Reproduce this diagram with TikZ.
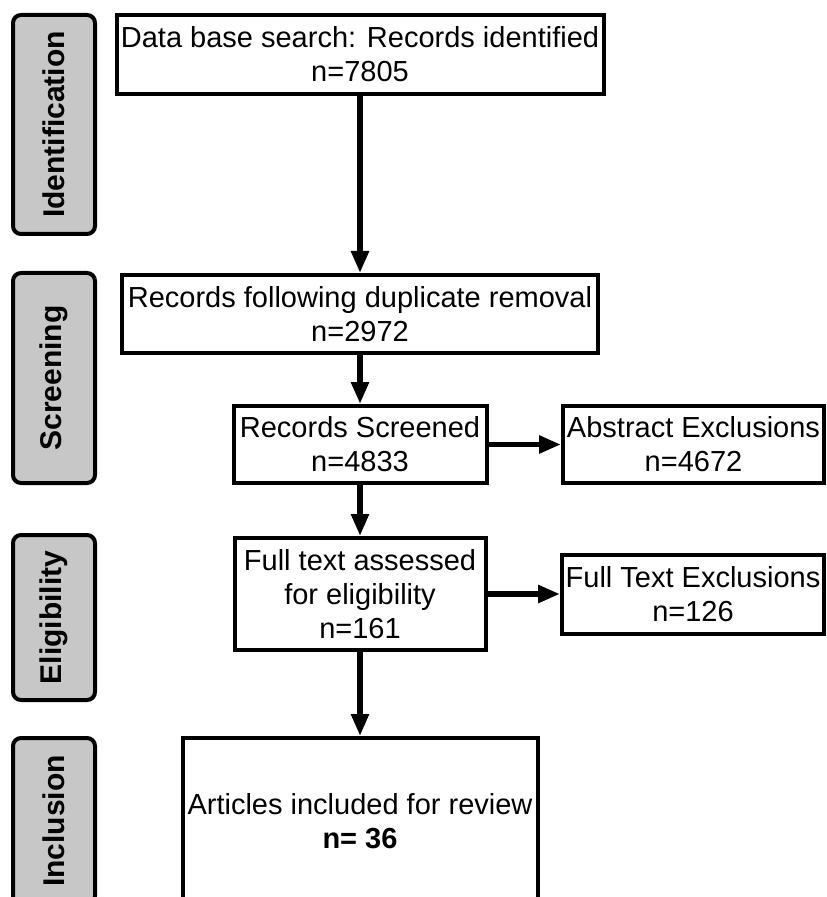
\documentclass[tikz,border=0pt]{standalone}
\usepackage{fontspec}
\setmainfont{Liberation Sans}
\usepackage{tikz}
\usetikzlibrary{arrows.meta}
\tikzset{>={Triangle[length=11pt,width=8.5pt]},
    box/.style={draw, line width=2pt, rectangle, align=center, inner sep=1pt,
        font=\fontsize{14.5}{17}\selectfont},
    stage/.style={draw, line width=2pt, rounded corners=4pt, fill=black!22,
        rotate=90, inner sep=0pt, minimum height=41pt,
        font=\fontsize{15}{18}\selectfont\bfseries}}

\begin{document}
\begin{tikzpicture}[x=0.5pt, y=-0.5pt,
      flow/.style={->, line width=2.8pt}]
  \path[use as bounding box] (0, 0) rectangle (826, 897);
  \clip (0, 0) rectangle (826, 897);
  % Stages
  \node[stage, minimum width=109.5pt] (ident) at (54, 124.5) {Identification};
  \node[stage, minimum width=105pt] (screen) at (54, 378) {Screening};
  \node[stage, minimum width=82.5pt] (elig) at (54, 617.5) {Eligibility};
  \node[stage, minimum width=83pt] (incl) at (54, 821) {Inclusion};
  % Records
  \node[box, minimum width=243.5pt, minimum height=39.5pt] (search) at (360, 54.5)
    {Data base search: Records identified\\n=7805};
  \node[box, minimum width=238pt, minimum height=39pt] (dupl) at (360, 314)
    {Records following duplicate removal\\n=2972};
  \node[box, minimum width=126.5pt, minimum height=38.5pt] (screened) at (360, 444.5)
    {Records Screened\\n=4833};
  \node[box, minimum width=130.5pt, minimum height=38.5pt] (abstract) at (693.5, 444.5)
    {Abstract Exclusions\\n=4672};
  \node[box, minimum width=125.5pt, minimum height=56pt] (fulltext) at (360, 594)
    {Full text assessed\\for eligibility\\n=161};
  \node[box, minimum width=131pt, minimum height=39.5pt] (ftexcl) at (693, 594)
    {Full Text Exclusions\\n=126};
  \node[box, minimum width=177.5pt, minimum height=83pt] (articles) at (360, 821)
    {Articles included for review\\\textbf{n= 36}};
  % Flow
  \draw[flow] (search) -- (dupl);
  \draw[flow] (dupl) -- (screened);
  \draw[flow] (screened) -- (abstract);
  \draw[flow] (screened) -- (fulltext);
  \draw[flow] (fulltext) -- (ftexcl);
  \draw[flow] (fulltext) -- (articles);
\end{tikzpicture}
\end{document}
